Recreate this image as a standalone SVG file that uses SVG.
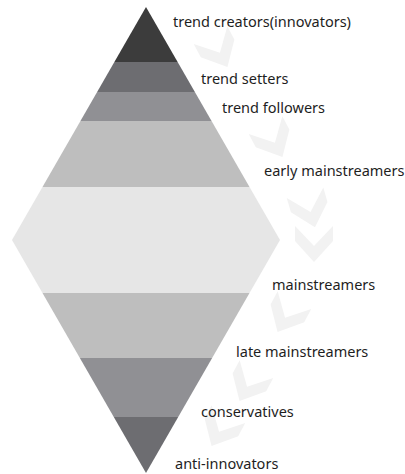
<svg xmlns="http://www.w3.org/2000/svg" xmlns:xlink="http://www.w3.org/1999/xlink" width="405" height="474" viewBox="0 0 405 474">
<style>
  .lbl { font-family: "Noto Sans", "Open Sans", sans-serif; font-size: 14.5px; fill: #1e1e1e; }
  .chev { fill: #f2f2f2; }
  .c1 { fill: #3c3c3c; }
  .c2 { fill: #6d6d71; }
  .c3 { fill: #909094; }
  .c4 { fill: #bebebe; }
  .c5 { fill: #e6e6e6; }
</style>
<defs>
  <polygon id="chev" class="chev" points="-19,-18 0,2 19,-18 19,-3 0,18 -19,-3"/>
</defs>
<rect width="405" height="474" fill="#ffffff"/>
<g id="connectors">
  <use xlink:href="#chev" transform="translate(219,51) rotate(-28)"/>
  <use xlink:href="#chev" transform="translate(274,141) rotate(-28)"/>
  <use xlink:href="#chev" transform="translate(310,210) rotate(-16)"/>
  <use xlink:href="#chev" transform="translate(314,244)"/>
  <use xlink:href="#chev" transform="translate(286,316) rotate(28)"/>
  <use xlink:href="#chev" transform="translate(248,385) rotate(28)"/>
  <use xlink:href="#chev" transform="translate(220,430) rotate(28)"/>
</g>
<g id="band-trend-creators">
  <polygon class="c1" points="146,7 177.63,62 114.37,62"/>
  <text class="lbl" x="173" y="27">trend creators(innovators)</text>
</g>
<g id="band-trend-setters">
  <polygon class="c2" points="114.37,62 177.63,62 194.88,92 97.12,92"/>
  <text class="lbl" x="201" y="84">trend setters</text>
</g>
<g id="band-trend-followers">
  <polygon class="c3" points="97.12,92 194.88,92 211.56,121 80.44,121"/>
  <text class="lbl" x="222" y="113">trend followers</text>
</g>
<g id="band-early-mainstreamers">
  <polygon class="c4" points="80.44,121 211.56,121 249.52,187 42.48,187"/>
  <text class="lbl" x="264" y="176">early mainstreamers</text>
</g>
<g id="band-mainstreamers">
  <polygon class="c5" points="42.48,187 249.52,187 280,240 249.52,293 42.48,293 12,240"/>
  <text class="lbl" x="272" y="290">mainstreamers</text>
</g>
<g id="band-late-mainstreamers">
  <polygon class="c4" points="42.48,293 249.52,293 212.14,358 79.86,358"/>
  <text class="lbl" x="236" y="356.5">late mainstreamers</text>
</g>
<g id="band-conservatives">
  <polygon class="c3" points="79.86,358 212.14,358 178.21,417 113.79,417"/>
  <text class="lbl" x="201" y="417">conservatives</text>
</g>
<g id="band-anti-innovators">
  <polygon class="c2" points="113.79,417 178.21,417 146,473"/>
  <text class="lbl" x="175" y="468.5">anti-innovators</text>
</g>
</svg>
